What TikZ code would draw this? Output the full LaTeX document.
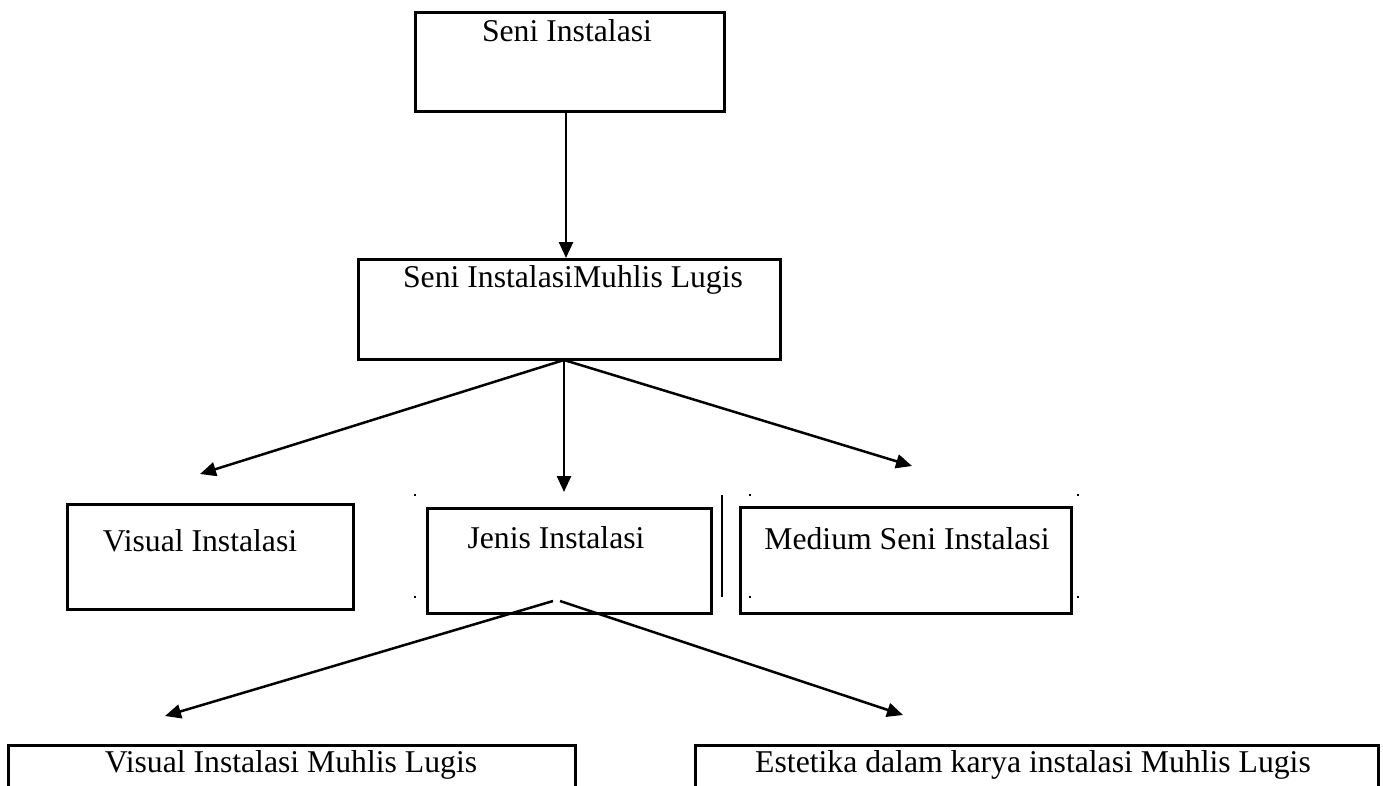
\documentclass[tikz,border=0pt]{standalone}
\usepackage{fontspec}
\setmainfont{Liberation Serif}
\usetikzlibrary{arrows.meta}
\begin{document}
\begin{tikzpicture}[x=1pt,y=-1pt,
  box/.style={draw=black, line width=2.7pt, rectangle, inner sep=0pt, anchor=north west},
  lbl/.style={anchor=base, inner sep=0pt, font=\fontsize{31.7}{38}\selectfont},
  conn/.style={line width=2.5pt, -{Triangle[length=16pt,width=14pt]}},
  dotm/.style={fill=black, minimum size=2.2pt, inner sep=0pt, rectangle}]
\useasboundingbox (0,0) rectangle (1383,785);
% boxes
\node[box, minimum width=309pt, minimum height=99pt] (top) at (414,11) {};
\node[box, minimum width=422pt, minimum height=100pt] (mid) at (357,258) {};
\node[box, minimum width=286pt, minimum height=105pt] (vis) at (66,503) {};
\node[box, minimum width=284pt, minimum height=105pt] (jen) at (426,507) {};
\node[box, minimum width=331pt, minimum height=106pt] (med) at (739,506) {};
\begin{scope}
\clip (0,0) rectangle (1383,785);
\node[box, minimum width=567pt, minimum height=80pt] (bl) at (7,744) {};
\node[box, minimum width=683pt, minimum height=80pt] (br) at (694,744) {};
\end{scope}
% texts
\node[lbl] (topT) at (567,41) {Seni Instalasi};
\node[lbl] (midT) at (573,287) {Seni InstalasiMuhlis Lugis};
\node[lbl] (visT) at (200,551) {Visual Instalasi};
\node[lbl] (jenT) at (556,548) {Jenis Instalasi};
\node[lbl] (medT) at (907,549) {Medium Seni Instalasi};
\node[lbl] (blT) at (291,772) {Visual Instalasi Muhlis Lugis};
\node[lbl] (brT) at (1033,772) {Estetika dalam karya instalasi Muhlis Lugis};
% connector points
\coordinate (s1) at (566,110);
\coordinate (e1) at (566,258);
\coordinate (s2) at (564,360);
\coordinate (e2) at (200,474);
\coordinate (e3) at (564,492);
\coordinate (e4) at (912,466);
\coordinate (s5) at (553,601);
\coordinate (s6) at (560,601);
\coordinate (e5) at (165,716);
\coordinate (e6) at (903,715);
\draw[conn] (s1) -- (e1);
\draw[conn] (s2) -- (e2);
\draw[conn] (s2) -- (e3);
\draw[conn] (s2) -- (e4);
\draw[conn] (s5) -- (e5);
\draw[conn] (s6) -- (e6);
% separator and dots
\coordinate (v1) at (722,495);
\coordinate (v2) at (722,597);
\draw[line width=2.7pt] (v1) -- (v2);
\node[dotm] (d1) at (415,495) {};
\node[dotm] (d2) at (415,597) {};
\node[dotm] (d3) at (750,495) {};
\node[dotm] (d4) at (1078,495) {};
\node[dotm] (d5) at (750,597) {};
\node[dotm] (d6) at (1078,597) {};
\end{tikzpicture}
\end{document}
